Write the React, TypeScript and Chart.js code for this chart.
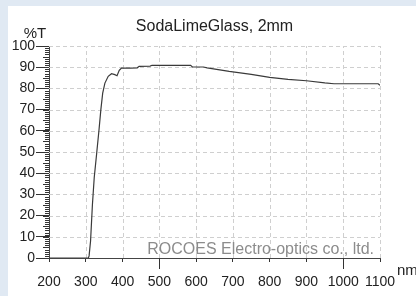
import React, { useEffect, useRef } from "react";
import { Chart, registerables } from "chart.js";

Chart.register(...registerables);

const wavelengths = [200, 307, 309, 313, 318, 323, 330, 336, 341, 346, 352, 361, 370, 379, 385, 391, 397, 420, 440, 445, 475, 480, 585, 590, 620, 630, 690, 700, 750, 800, 850, 900, 950, 975, 1050, 1095, 1100];
const transmission = [0, 0, 1, 8, 25, 38, 50, 60.5, 70, 77.8, 82.5, 85.7, 86.9, 86.5, 86, 88.5, 89.6, 89.6, 89.7, 90.4, 90.5, 90.9, 90.9, 90.1, 90.1, 89.7, 88, 87.8, 86.6, 85.2, 84.3, 83.6, 82.6, 82.2, 82.2, 82.2, 81.4];
const xTicks = [200, 300, 400, 500, 600, 700, 800, 900, 1000, 1100];
const yTicks = [0, 10, 20, 30, 40, 50, 60, 70, 80, 90, 100];
const longXTicks = [500, 1000];

const TITLE = "SodaLimeGlass, 2mm";
const Y_UNIT = "%T";
const X_UNIT = "nm";
const WATERMARK = "ROCOES Electro-optics co., ltd.";

const FONT = '"Liberation Sans", Arial, Helvetica, sans-serif';

const decor = {
  id: "decor",
  beforeDatasetsDraw(chart: any) {
    const { ctx, chartArea, scales } = chart;
    const xs = scales.x;
    const ys = scales.y;
    ctx.save();
    // dashed grid
    ctx.strokeStyle = "#cfcfcf";
    ctx.lineWidth = 1;
    ctx.setLineDash([4, 3]);
    for (const v of xTicks) {
      if (v === xs.min) continue;
      const px = Math.round(xs.getPixelForValue(v)) + 0.5;
      ctx.beginPath();
      ctx.moveTo(px, chartArea.bottom);
      ctx.lineTo(px, chartArea.top);
      ctx.stroke();
    }
    for (const v of yTicks) {
      if (v === ys.min) continue;
      const py = Math.round(ys.getPixelForValue(v)) + 0.5;
      ctx.beginPath();
      ctx.moveTo(chartArea.left, py);
      ctx.lineTo(chartArea.right, py);
      ctx.stroke();
    }
    ctx.setLineDash([]);
    // watermark
    ctx.font = `16px ${FONT}`;
    ctx.fillStyle = "#8c8c8c";
    ctx.textAlign = "right";
    ctx.textBaseline = "middle";
    ctx.fillText(WATERMARK, chartArea.right - 6, chartArea.bottom - 8);
    ctx.restore();
  },
  afterDraw(chart: any) {
    const { ctx, chartArea, scales } = chart;
    const xs = scales.x;
    const ys = scales.y;
    ctx.save();
    ctx.strokeStyle = "#333";
    ctx.lineWidth = 1;
    for (let v = 0; v <= 100; v += 1) {
      const py = Math.round(ys.getPixelForValue(v)) + 0.5;
      const len = v % 5 === 0 ? 6 : 4;
      ctx.beginPath();
      ctx.moveTo(chartArea.left - len, py);
      ctx.lineTo(chartArea.left, py);
      ctx.stroke();
    }
    for (const v of longXTicks) {
      const px = Math.round(xs.getPixelForValue(v)) + 0.5;
      ctx.beginPath();
      ctx.moveTo(px, chartArea.bottom);
      ctx.lineTo(px, chartArea.bottom + 11);
      ctx.stroke();
    }
    ctx.fillStyle = "#222";
    ctx.font = `16px ${FONT}`;
    ctx.textAlign = "center";
    ctx.textBaseline = "middle";
    ctx.fillText(TITLE, (chartArea.left + chartArea.right) / 2, 21);
    ctx.font = `15px ${FONT}`;
    ctx.fillText(Y_UNIT, chartArea.left - 14, chartArea.top - 12);
    ctx.textAlign = "left";
    ctx.fillText(X_UNIT, chartArea.right + 17, chartArea.bottom + 13);
    ctx.restore();
  },
};

export default function App() {
  const ref = useRef<HTMLCanvasElement>(null);
  useEffect(() => {
    if (!ref.current) return;
    const chart = new Chart(ref.current, {
      type: "line",
      data: {
        datasets: [
          {
            data: wavelengths.map((w, i) => ({ x: w, y: transmission[i] })),
            borderColor: "#3a3a3a",
            borderWidth: 1.2,
            pointRadius: 0,
            tension: 0,
            fill: false,
          },
        ],
      },
      options: {
        animation: false,
        responsive: false,
        devicePixelRatio: 1,
        layout: { padding: { left: 0, right: 36, top: 40, bottom: 0 } },
        plugins: { legend: { display: false }, title: { display: false }, tooltip: { enabled: false } },
        scales: {
          x: {
            type: "linear",
            min: 200,
            max: 1100,
            afterFit: (s: any) => { s.height = 38; },
            afterBuildTicks: (s: any) => { s.ticks = xTicks.map((v) => ({ value: v })); },
            ticks: {
              autoSkip: false,
              maxRotation: 0,
              padding: 12,
              color: "#222",
              font: { family: FONT, size: 14 },
              callback: (v: any) => String(v),
            },
            grid: { drawOnChartArea: false, color: "#333", tickColor: "#333", tickLength: 4 },
            border: { display: true, color: "#444", width: 1 },
          },
          y: {
            type: "linear",
            min: 0,
            max: 100,
            afterFit: (s: any) => { s.width = 41; },
            afterBuildTicks: (s: any) => { s.ticks = yTicks.map((v) => ({ value: v })); },
            ticks: {
              padding: 1,
              color: "#222",
              font: { family: FONT, size: 14 },
              callback: (v: any) => String(v),
            },
            grid: { drawOnChartArea: false, color: "#333", tickColor: "#333", tickLength: 13 },
            border: { display: true, color: "#444", width: 1 },
          },
        },
      },
      plugins: [decor],
    });
    return () => chart.destroy();
  }, []);
  return (
    <div style={{ position: "fixed", left: 0, top: 0, width: 416, height: 296, background: "#e0e9f3", overflow: "hidden" }}>
      <div style={{ position: "absolute", left: 8, top: 6, width: 408, height: 290, background: "#ffffff" }}>
        <canvas ref={ref} width={408} height={290} style={{ display: "block", width: 408, height: 290 }} />
      </div>
    </div>
  );
}
